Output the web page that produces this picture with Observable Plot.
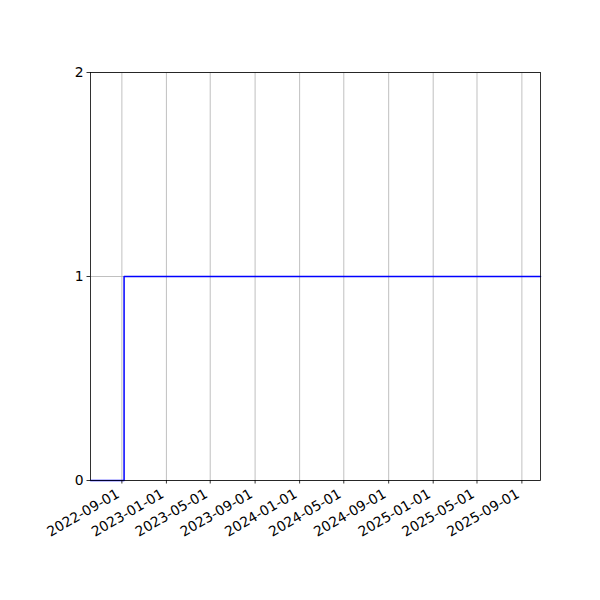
<!DOCTYPE html>
<html>
<head>
<meta charset="utf-8">
<script src="https://cdn.jsdelivr.net/npm/d3@7"></script>
<script src="https://cdn.jsdelivr.net/npm/@observablehq/plot@0.6"></script>
<style>
  html, body { margin: 0; padding: 0; background: #fff; }
  #chart { width: 600px; height: 600px; }
</style>
</head>
<body>
<div id="chart"></div>
<script>
const stepDates = ["2022-06-07", "2022-09-07", "2025-10-22"];
const stepValues = [0, 1, 1];
const xTickLabels = ["2022-09-01", "2023-01-01", "2023-05-01", "2023-09-01", "2024-01-01", "2024-05-01", "2024-09-01", "2025-01-01", "2025-05-01", "2025-09-01"];
const yTicks = [0, 1, 2];
const xDomain = ["2022-06-07", "2025-10-22"];

const parse = d3.utcParse("%Y-%m-%d");
const fmt = d3.utcFormat("%Y-%m-%d");
const data = stepDates.map((d, i) => ({date: parse(d), value: stepValues[i]}));
const xTicks = xTickLabels.map(parse);

const fs = 13.9;
const ascent = 10.5, descent = 3.1;
const rot = 30 * Math.PI / 180;

const chart = Plot.plot({
  width: 600,
  height: 600,
  marginLeft: 90,
  marginRight: 60,
  marginTop: 72,
  marginBottom: 120,
  style: {fontFamily: "DejaVu Sans", fontSize: fs + "px", background: "#fff", color: "#000"},
  x: {type: "utc", domain: xDomain.map(parse), axis: null},
  y: {domain: [0, 2], axis: null},
  marks: [
    Plot.gridX(xTicks, {stroke: "#b0b0b0", strokeOpacity: 1, strokeWidth: 0.8}),
    Plot.gridY(yTicks, {stroke: "#b0b0b0", strokeOpacity: 1, strokeWidth: 0.8}),
    Plot.line(data, {x: "date", y: "value", curve: "step-after", stroke: "blue", strokeWidth: 1.5}),
    Plot.frame({stroke: "#000", strokeWidth: 0.8}),
    Plot.axisX(xTicks, {tickFormat: () => "", tickSize: 3.5, tickPadding: 0, label: null, strokeWidth: 0.8}),
    Plot.text(xTicks, {
      x: d => d, frameAnchor: "bottom", text: d => fmt(d), rotate: -30,
      textAnchor: "end", lineAnchor: "bottom", fontSize: fs,
      dx: -descent * Math.sin(rot), dy: 7 + ascent * Math.cos(rot)
    }),
    Plot.axisY(yTicks, {tickFormat: d => String(d), tickSize: 3.5, tickPadding: 3.5, label: null, fontSize: fs, strokeWidth: 0.8})
  ]
});
document.getElementById("chart").appendChild(chart);
</script>
</body>
</html>
